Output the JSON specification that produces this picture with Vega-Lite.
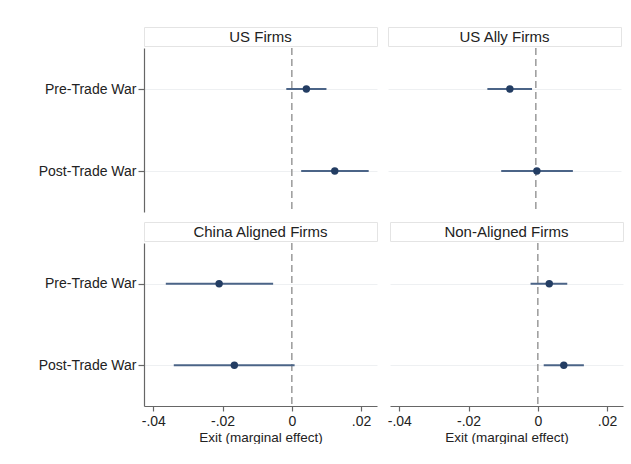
{
  "$schema": "https://vega.github.io/schema/vega-lite/v6.json",
  "padding": {"left": 38, "top": 26, "right": 0, "bottom": 0},
  "background": "#ffffff",
  "datasets": {
    "coef": [
      {"panel": "US Firms", "period": "Pre-Trade War", "b": 0.0042, "lo": -0.0016, "hi": 0.0100},
      {"panel": "US Firms", "period": "Post-Trade War", "b": 0.0124, "lo": 0.0027, "hi": 0.0222},
      {"panel": "US Ally Firms", "period": "Pre-Trade War", "b": -0.0075, "lo": -0.0140, "hi": -0.0011},
      {"panel": "US Ally Firms", "period": "Post-Trade War", "b": 0.0003, "lo": -0.0100, "hi": 0.0107},
      {"panel": "China Aligned Firms", "period": "Pre-Trade War", "b": -0.0210, "lo": -0.0364, "hi": -0.0054},
      {"panel": "China Aligned Firms", "period": "Post-Trade War", "b": -0.0166, "lo": -0.0341, "hi": 0.0008},
      {"panel": "Non-Aligned Firms", "period": "Pre-Trade War", "b": 0.0033, "lo": -0.0021, "hi": 0.0085},
      {"panel": "Non-Aligned Firms", "period": "Post-Trade War", "b": 0.0075, "lo": 0.0017, "hi": 0.0133}
    ]
  },
  "vconcat": [
    {
      "hconcat": [
        {
          "spacing": 0,
          "vconcat": [
            {
              "width": 233, "height": 19,
              "view": {"stroke": "#e4e4e4", "fill": "#ffffff"},
              "data": {"values": [{"label": "US Firms"}]},
              "mark": {"type": "text", "fontSize": 15, "color": "#222222"},
              "encoding": {"text": {"field": "label"}}
            },
            {
              "width": 233, "height": 164,
              "view": {"stroke": null},
              "data": {"name": "coef"},
              "transform": [{"filter": "datum.panel === 'US Firms'"}],
              "layer": [
                {
                  "mark": {"type": "rule", "color": "#9a9a9a", "strokeWidth": 1.5, "strokeDash": [7, 4]},
                  "data": {"values": [{"z": 0}]},
                  "encoding": {"x": {"field": "z", "type": "quantitative", "scale": {"domain": [-0.0427, 0.0246], "nice": false, "zero": false}, "axis": null}}
                },
                {
                  "mark": {"type": "rule", "color": "#4b6487", "strokeWidth": 2},
                  "encoding": {
                    "x": {"field": "lo", "type": "quantitative"},
                    "x2": {"field": "hi"},
                    "y": {"field": "period", "type": "nominal", "scale": {"type": "point", "domain": ["Pre-Trade War", "Post-Trade War"], "padding": 0.5},
                      "axis": {"title": null, "domain": true, "ticks": true, "tickSize": 6, "labelPadding": 2, "grid": true}}
                  }
                },
                {
                  "mark": {"type": "point", "filled": true, "opacity": 1, "size": 55, "color": "#233d63"},
                  "encoding": {
                    "x": {"field": "b", "type": "quantitative"},
                    "y": {"field": "period", "type": "nominal"}
                  }
                }
              ]
            }
          ]
        },
        {
          "spacing": 0,
          "vconcat": [
            {
              "width": 233, "height": 19,
              "view": {"stroke": "#e4e4e4", "fill": "#ffffff"},
              "data": {"values": [{"label": "US Ally Firms"}]},
              "mark": {"type": "text", "fontSize": 15, "color": "#222222"},
              "encoding": {"text": {"field": "label"}}
            },
            {
              "width": 233, "height": 164,
              "view": {"stroke": null},
              "data": {"name": "coef"},
              "transform": [{"filter": "datum.panel === 'US Ally Firms'"}],
              "layer": [
                {
                  "mark": {"type": "rule", "color": "#9a9a9a", "strokeWidth": 1.5, "strokeDash": [7, 4]},
                  "data": {"values": [{"z": 0}]},
                  "encoding": {"x": {"field": "z", "type": "quantitative", "scale": {"domain": [-0.0427, 0.0246], "nice": false, "zero": false}, "axis": null}}
                },
                {
                  "mark": {"type": "rule", "color": "#4b6487", "strokeWidth": 2},
                  "encoding": {
                    "x": {"field": "lo", "type": "quantitative"},
                    "x2": {"field": "hi"},
                    "y": {"field": "period", "type": "nominal", "scale": {"type": "point", "domain": ["Pre-Trade War", "Post-Trade War"], "padding": 0.5},
                      "axis": {"title": null, "domain": false, "ticks": false, "labels": false, "grid": true, "minExtent": 0, "maxExtent": 0}}
                  }
                },
                {
                  "mark": {"type": "point", "filled": true, "opacity": 1, "size": 55, "color": "#233d63"},
                  "encoding": {
                    "x": {"field": "b", "type": "quantitative"},
                    "y": {"field": "period", "type": "nominal"}
                  }
                }
              ]
            }
          ]
        }
      ],
      "spacing": 9
    },
    {
      "hconcat": [
        {
          "spacing": 0,
          "vconcat": [
            {
              "width": 233, "height": 19,
              "view": {"stroke": "#e4e4e4", "fill": "#ffffff"},
              "data": {"values": [{"label": "China Aligned Firms"}]},
              "mark": {"type": "text", "fontSize": 15, "color": "#222222"},
              "encoding": {"text": {"field": "label"}}
            },
            {
              "width": 233, "height": 163,
              "view": {"stroke": null},
              "data": {"name": "coef"},
              "transform": [{"filter": "datum.panel === 'China Aligned Firms'"}],
              "layer": [
                {
                  "mark": {"type": "rule", "color": "#9a9a9a", "strokeWidth": 1.5, "strokeDash": [7, 4]},
                  "data": {"values": [{"z": 0}]},
                  "encoding": {"x": {"field": "z", "type": "quantitative", "scale": {"domain": [-0.0427, 0.0246], "nice": false, "zero": false},
                    "axis": {"title": "Exit (marginal effect)", "values": [-0.04, -0.02, 0, 0.02], "labelExpr": "datum.value == 0 ? '0' : (datum.value < 0 ? '-' : '') + replace(format(abs(datum.value), '.2f'), '0.', '.')", "tickSize": 5, "labelPadding": 3, "titlePadding": 2, "grid": false}}}
                },
                {
                  "mark": {"type": "rule", "color": "#4b6487", "strokeWidth": 2},
                  "encoding": {
                    "x": {"field": "lo", "type": "quantitative"},
                    "x2": {"field": "hi"},
                    "y": {"field": "period", "type": "nominal", "scale": {"type": "point", "domain": ["Pre-Trade War", "Post-Trade War"], "padding": 0.5},
                      "axis": {"title": null, "domain": true, "ticks": true, "tickSize": 6, "labelPadding": 2, "grid": true}}
                  }
                },
                {
                  "mark": {"type": "point", "filled": true, "opacity": 1, "size": 55, "color": "#233d63"},
                  "encoding": {
                    "x": {"field": "b", "type": "quantitative"},
                    "y": {"field": "period", "type": "nominal"}
                  }
                }
              ]
            }
          ]
        },
        {
          "spacing": 0,
          "vconcat": [
            {
              "width": 233, "height": 19,
              "view": {"stroke": "#e4e4e4", "fill": "#ffffff"},
              "data": {"values": [{"label": "Non-Aligned Firms"}]},
              "mark": {"type": "text", "fontSize": 15, "color": "#222222"},
              "encoding": {"text": {"field": "label"}}
            },
            {
              "width": 233, "height": 163,
              "view": {"stroke": null},
              "data": {"name": "coef"},
              "transform": [{"filter": "datum.panel === 'Non-Aligned Firms'"}],
              "layer": [
                {
                  "mark": {"type": "rule", "color": "#9a9a9a", "strokeWidth": 1.5, "strokeDash": [7, 4]},
                  "data": {"values": [{"z": 0}]},
                  "encoding": {"x": {"field": "z", "type": "quantitative", "scale": {"domain": [-0.0427, 0.0246], "nice": false, "zero": false},
                    "axis": {"title": "Exit (marginal effect)", "values": [-0.04, -0.02, 0, 0.02], "labelExpr": "datum.value == 0 ? '0' : (datum.value < 0 ? '-' : '') + replace(format(abs(datum.value), '.2f'), '0.', '.')", "tickSize": 5, "labelPadding": 3, "titlePadding": 2, "grid": false}}}
                },
                {
                  "mark": {"type": "rule", "color": "#4b6487", "strokeWidth": 2},
                  "encoding": {
                    "x": {"field": "lo", "type": "quantitative"},
                    "x2": {"field": "hi"},
                    "y": {"field": "period", "type": "nominal", "scale": {"type": "point", "domain": ["Pre-Trade War", "Post-Trade War"], "padding": 0.5},
                      "axis": {"title": null, "domain": false, "ticks": false, "labels": false, "grid": true, "minExtent": 0, "maxExtent": 0}}
                  }
                },
                {
                  "mark": {"type": "point", "filled": true, "opacity": 1, "size": 55, "color": "#233d63"},
                  "encoding": {
                    "x": {"field": "b", "type": "quantitative"},
                    "y": {"field": "period", "type": "nominal"}
                  }
                }
              ]
            }
          ]
        }
      ],
      "spacing": 9
    }
  ],
  "spacing": 8,
  "config": {
    "font": "Liberation Sans",
    "view": {"stroke": null},
    "text": {"font": "Liberation Sans"},
    "axis": {
      "labelFont": "Liberation Sans",
      "titleFont": "Liberation Sans",
      "labelFontSize": 14,
      "titleFontSize": 13.5,
      "titleFontWeight": "normal",
      "labelColor": "#222222",
      "titleColor": "#222222",
      "domainColor": "#666666",
      "tickColor": "#666666",
      "domainWidth": 1.2,
      "tickWidth": 1.2,
      "gridColor": "#eef0f2",
      "gridWidth": 1
    }
  }
}
